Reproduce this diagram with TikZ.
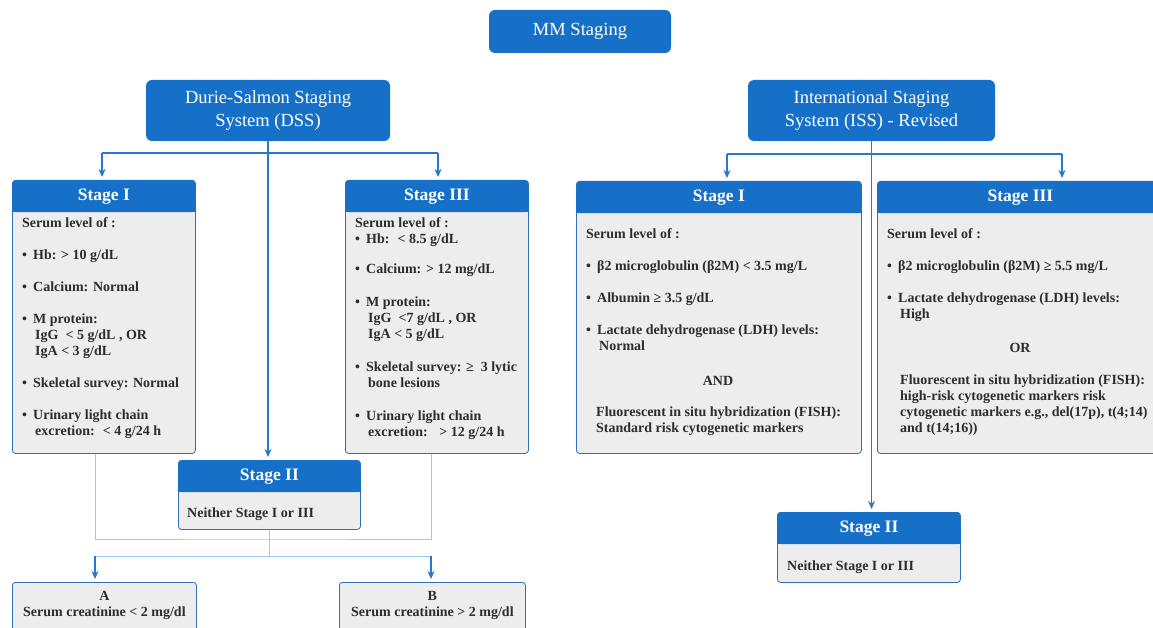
\documentclass[tikz,border=0pt]{standalone}
\usepackage{fontspec}
\setmainfont{Liberation Serif}
\usetikzlibrary{arrows,arrows.meta,shapes,positioning,calc}
\definecolor{mmblue}{RGB}{22,112,200}
\definecolor{mmborder}{RGB}{48,112,184}
\definecolor{mmgray}{RGB}{237,237,237}
\definecolor{mmlink}{RGB}{40,118,205}
\definecolor{mmlight}{RGB}{165,198,236}
\definecolor{mmtext}{RGB}{45,45,45}
\newcommand{\bul}{\makebox[11pt][l]{\textbullet}}
\newcommand{\ind}{\hspace*{13pt}}
\tikzstyle{topbox} = [rectangle, rounded corners=6pt, fill=mmblue, text=white, align=center, font=\fontsize{18.5}{23.5}\selectfont, inner sep=0pt]
\tikzstyle{stagebody} = [rectangle, anchor=north west, rounded corners=3pt, draw=mmborder, fill=mmgray, line width=0.8pt, inner sep=0pt]
\tikzstyle{stagehead} = [rectangle, anchor=north, rounded corners=4pt, fill=mmblue, text=white, font=\fontsize{17.5}{20}\selectfont\bfseries, inner sep=0pt, minimum height=32pt]
\tikzstyle{stagetext} = [anchor=north west, align=left, inner sep=0pt, text=mmtext, font=\fontsize{14}{16}\selectfont\bfseries]
\tikzstyle{arrow} = [line width=1.3pt, -{Stealth[length=8pt,width=7pt]}, color=mmlink, shorten >=3pt]
\tikzstyle{link} = [line width=1.1pt, color=mmlink]
\tikzstyle{light} = [line width=0.9pt, color=mmlight]

\begin{document}
\begin{tikzpicture}[x=1pt,y=-1pt]
\path[use as bounding box] (0,0) rectangle (1153,628);
\clip (0,0) rectangle (1153,628);
\fill[white] (0,0) rectangle (1153,628);

% Top boxes
\node (mm) [topbox, minimum width=182pt, minimum height=43pt] at (580,31.5) {MM Staging};
\node (dss) [topbox, minimum width=244pt, minimum height=61pt] at (268,110.5) {Durie-Salmon Staging\\System (DSS)};
\node (iss) [topbox, minimum width=247pt, minimum height=61pt] at (871.5,110.5) {International Staging\\System (ISS) - Revised};

% Stage boxes
\node (dssI) [stagebody, minimum width=183pt, minimum height=273pt] at (12,180) {};
\node (dssIII) [stagebody, minimum width=183pt, minimum height=273pt] at (345,180) {};
\node (dssII) [stagebody, minimum width=182pt, minimum height=69pt] at (178,460) {};
\node (dssA) [stagebody, minimum width=184pt, minimum height=60pt] at (12,582) {};
\node (dssB) [stagebody, minimum width=186pt, minimum height=60pt] at (339,582) {};
\node (issI) [stagebody, minimum width=285pt, minimum height=272pt] at (576,181) {};
\node (issIII) [stagebody, minimum width=286pt, minimum height=272pt] at (877,181) {};
\node (issII) [stagebody, minimum width=183pt, minimum height=70pt] at (777,512) {};

% Headers
\foreach \b in {dssI,dssIII,dssII,issI,issIII,issII}
  \fill[mmblue] ($(\b.north west)+(0,16)$) rectangle ($(\b.north east)+(0,32)$);
\node (dssIh) [stagehead, minimum width=183pt] at (dssI.north) {Stage I};
\node (dssIIIh) [stagehead, minimum width=183pt] at (dssIII.north) {Stage III};
\node (dssIIh) [stagehead, minimum width=182pt] at (dssII.north) {Stage II};
\node (issIh) [stagehead, minimum width=285pt] at (issI.north) {Stage I};
\node (issIIIh) [stagehead, minimum width=286pt] at (issIII.north) {Stage III};
\node (issIIh) [stagehead, minimum width=183pt] at (issII.north) {Stage II};

% Box texts
\node (dssIt) [stagetext] at (22,217) {Serum level of :\\[16pt]
\bul Hb: > 10 g/dL\\[16pt]
\bul Calcium: Normal\\[16pt]
\bul M protein:\\ \ind IgG ~< 5 g/dL , OR\\ \ind IgA < 3 g/dL\\[16pt]
\bul Skeletal survey: Normal\\[16pt]
\bul Urinary light chain\\ \ind excretion: ~< 4 g/24 h};
\node (dssIIIt) [stagetext] at (355,217) {Serum level of :\\
\bul Hb: ~< 8.5 g/dL\\[14pt]
\bul Calcium: > 12 mg/dL\\[17pt]
\bul M protein:\\ \ind IgG ~<7 g/dL , OR\\ \ind IgA < 5 g/dL\\[17pt]
\bul Skeletal survey: ≥ ~3 lytic\\ \ind bone lesions\\[17pt]
\bul Urinary light chain\\ \ind excretion: ~~> 12 g/24 h};
\node (dssIIt) [stagetext] at (187,508) {Neither Stage I or III};
\node (dssAt) [stagetext, anchor=center, align=center] at (dssA.north |- 0,605) {A\\Serum creatinine < 2 mg/dl};
\node (dssBt) [stagetext, anchor=center, align=center] at (dssB.north |- 0,605) {B\\Serum creatinine > 2 mg/dl};

\node (issIt) [stagetext] at (586,228) {Serum level of :\\[16pt]
\bul β2 microglobulin (β2M) < 3.5 mg/L\\[16pt]
\bul Albumin ≥ 3.5 g/dL\\[16pt]
\bul Lactate dehydrogenase (LDH) levels:\\ \ind Normal};
\node (issIand) [stagetext, anchor=center] at (718,381) {AND};
\node (issIft) [stagetext] at (596,407) {Fluorescent in situ hybridization (FISH):\\Standard risk cytogenetic markers};
\node (issIIIt) [stagetext] at (887,228) {Serum level of :\\[16pt]
\bul β2 microglobulin (β2M) ≥ 5.5 mg/L\\[16pt]
\bul Lactate dehydrogenase (LDH) levels:\\ \ind High};
\node (issIIIor) [stagetext, anchor=center] at (1020,348) {OR};
\node (issIIIft) [stagetext] at (900,375) {Fluorescent in situ hybridization (FISH):\\high-risk cytogenetic markers risk\\cytogenetic markers e.g., del(17p), t(4;14)\\and t(14;16))};
\node (issIIt) [stagetext] at (787,561) {Neither Stage I or III};

% DSS connectors
\coordinate (dssl) at (102,153);
\coordinate (dssr) at (438,153);
\draw[link] (dssl) -- (dssr);
\draw[arrow] (dss.south) -- (dss.south |- dssIIh.north);
\draw[arrow] (dssl) -- (dssl |- dssIh.north);
\draw[arrow] (dssr) -- (dssr |- dssIIIh.north);

% DSS lower connectors
\coordinate (grp) at (270,539);
\draw[light] ($(dssI.south)+(-8,0)$) |- (grp) -| ($(dssIII.south)+(-5,0)$);
\coordinate (abar) at (95,556);
\coordinate (bbar) at (431,556);
\draw[light] (dssII.south) -- (dssII.south |- abar);
\draw[light] (abar) -- (bbar);
\draw[arrow] (abar) -- (abar |- dssA.north);
\draw[arrow] (bbar) -- (bbar |- dssB.north);

% ISS connectors
\coordinate (issl) at (727,154);
\coordinate (issr) at (1062,154);
\draw[link] (issl) -- (issr);
\draw[arrow] (iss.south) -- (iss.south |- issIIh.north);
\draw[arrow] (issl) -- (issl |- issIh.north);
\draw[arrow] (issr) -- (issr |- issIIIh.north);
\end{tikzpicture}
\end{document}
